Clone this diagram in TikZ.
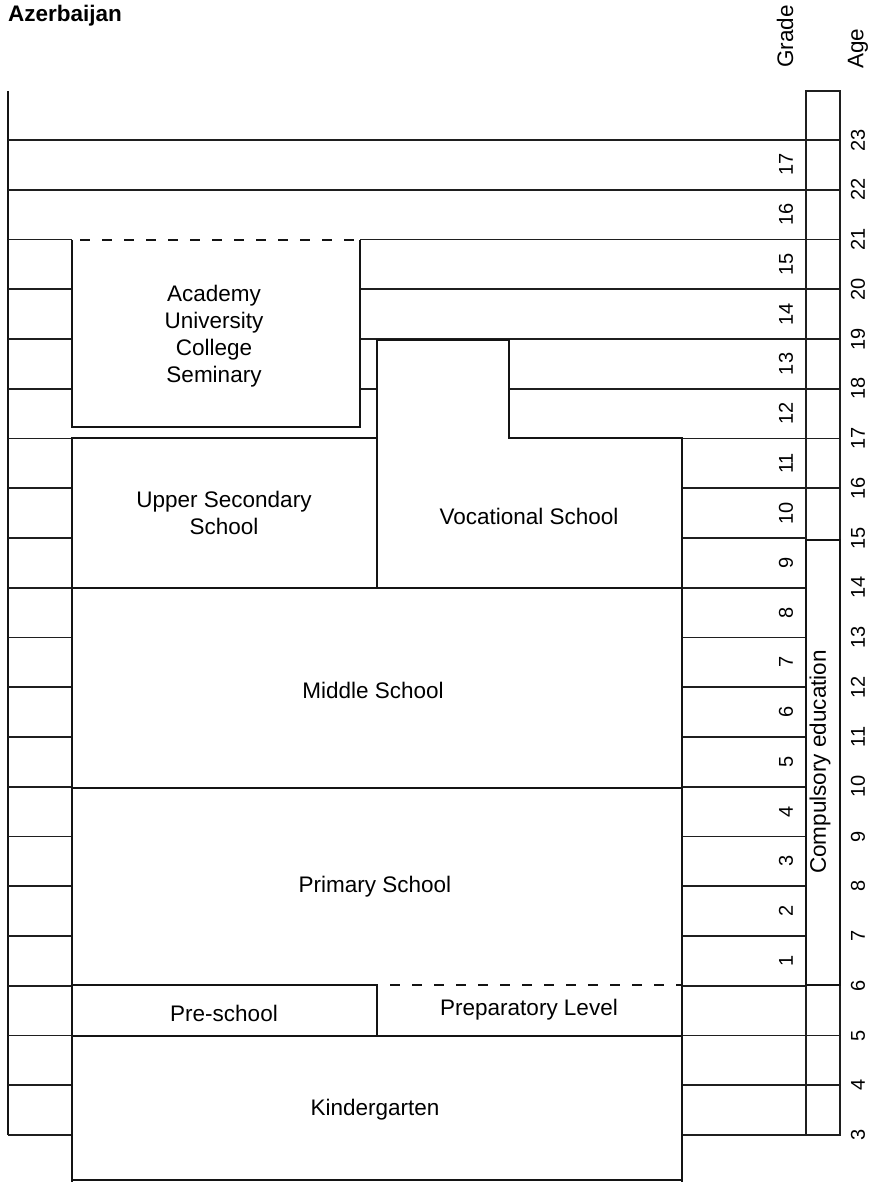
\documentclass[tikz,border=0pt]{standalone}
\usepackage{fontspec}
\setmainfont{Liberation Sans}
\begin{document}
\begin{tikzpicture}[x=1pt,y=-1pt,
  thin rule/.style={line width=1.6pt,black!88},
  box rule/.style={line width=2.8pt,black!92,line join=miter},
  open edge/.style={line width=2.8pt,black!92,dash pattern=on 10pt off 12pt},
  label/.style={font=\fontsize{22.5}{27}\selectfont,align=center,inner sep=0pt},
  num/.style={label,rotate=90},
  digit/.style={num,font=\fontsize{20}{24}\selectfont}]
\useasboundingbox (0,0) rectangle (880,1182);

% title and column heads
\node[label,font=\fontsize{22.5}{27}\selectfont\bfseries,anchor=north west] (title) at (8,5) {Azerbaijan};
\node[num,anchor=west] (gradehead) at (785,68) {Grade};
\node[num,anchor=west] (agehead) at (858,69) {Age};

% outer frame of the grid
\draw[box rule] (8,91) -- (8,1135);
\draw[thin rule] (806,91) rectangle (840,1135);

% horizontal age rules
\foreach \a in {23,22} {
  \pgfmathsetmacro\yy{140+(23-\a)*49.75}
  \draw[thin rule] (8,\yy) -- (840,\yy);
}
\foreach \a in {21,20,19} {
  \pgfmathsetmacro\yy{140+(23-\a)*49.75}
  \draw[thin rule] (8,\yy) -- (72,\yy) (360,\yy) -- (840,\yy);
}
\pgfmathsetmacro\yy{140+5*49.75}
\draw[thin rule] (8,\yy) -- (72,\yy) (360,\yy) -- (377,\yy) (509,\yy) -- (840,\yy);
\pgfmathsetmacro\yy{140+6*49.75}
\draw[thin rule] (8,\yy) -- (72,\yy) (682,\yy) -- (840,\yy);
\foreach \a in {16,...,3} {
  \pgfmathsetmacro\yy{140+(23-\a)*49.75}
  \draw[thin rule] (8,\yy) -- (72,\yy) (682,\yy) -- (806,\yy);
}
\foreach \a in {16,5,4,3} {
  \pgfmathsetmacro\yy{140+(23-\a)*49.75}
  \draw[thin rule] (806,\yy) -- (840,\yy);
}

% institutions
\draw[open edge] (80,240) -- (360,240);
\draw[box rule] (72,240) -- (72,427) -- (360,427) -- (360,240);
\draw[box rule] (72,438) rectangle (377,588);
\draw[box rule] (377,588) -- (377,340) -- (509,340) -- (509,438) -- (682,438) -- (682,588) -- cycle;
\draw[box rule] (72,588) rectangle (682,788);
\draw[box rule] (72,985) -- (72,788) -- (682,788) -- (682,985);
\draw[box rule] (72,985) rectangle (377,1036);
\draw[open edge] (390,985) -- (682,985);
\draw[box rule] (682,985) -- (682,1036) -- (377,1036);
\draw[box rule] (72,1182) -- (72,1036) -- (682,1036) -- (682,1182);
\draw[box rule] (72,1180) -- (682,1180);
\draw[box rule] (806,540) rectangle (840,985);

% institution names
\node[label] (academy) at (214,336) {Academy\\University\\College\\Seminary};
\node[label] (upper) at (224,513) {Upper Secondary\\School};
\node[label] (vocational) at (529,516) {Vocational School};
\node[label] (middle) at (373,690) {Middle School};
\node[label] (primary) at (375,887) {Primary School};
\node[label] (preschool) at (224,1013) {Pre-school};
\node[label] (preparatory) at (529,1010) {Preparatory Level};
\node[label] (kindergarten) at (375,1110) {Kindergarten};
\node[num] (compulsory) at (820,762) {Compulsory education};

% grade and age numbers
\foreach \g in {1,...,17} {
  \pgfmathsetmacro\yy{140+(23-\g-5)*49.75-24.875}
  \node[digit] (grade\g) at (786,\yy) {\g};
}
\foreach \a in {3,...,23} {
  \pgfmathsetmacro\yy{140+(23-\a)*49.75}
  \node[digit] (age\a) at (858,\yy) {\a};
}
\end{tikzpicture}
\end{document}
